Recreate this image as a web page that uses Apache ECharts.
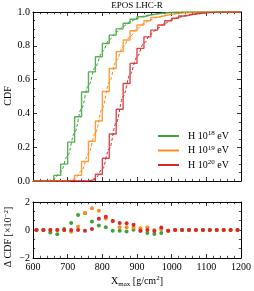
<!DOCTYPE html>
<html><head><meta charset="utf-8">
<script src="https://cdn.jsdelivr.net/npm/echarts@6/dist/echarts.min.js"></script>
<style>html,body{margin:0;padding:0;background:#fff}#c{width:254px;height:291px}</style>
</head><body><div id="c"></div>
<script>
// ---- data ----
const binEdges = [600,620,640,660,680,700,720,740,760,780,800,820,840,860,880,900,920,940,960,980,1000,1020,1040,1060,1080,1100,1120,1140,1160,1180];
const cdfH18 = [0,0,0.003,0.033,0.10,0.23,0.38,0.527,0.646,0.735,0.814,0.863,0.90,0.933,0.957,0.972,0.982,0.989,0.994,0.997,0.999,1,1,1,1,1,1,1,1,1];
const cdfH19 = [0,0,0,0,0,0.005,0.033,0.115,0.235,0.355,0.53,0.666,0.766,0.834,0.889,0.923,0.948,0.968,0.978,0.986,0.992,0.996,0.998,1,1,1,1,1,1,1];
const cdfH20 = [0,0,0,0,0,0,0,0,0.008,0.04,0.135,0.278,0.425,0.577,0.696,0.785,0.853,0.893,0.923,0.948,0.963,0.976,0.985,0.991,0.995,0.998,1,1,1,1];
const fitX18 = [600,640,660,680,700,720,740,760,780,800,820,840,860,880,900,920,940,960,980,1000,1040,1200];
const fitH18 = [0,0,0.01,0.055,0.15,0.285,0.43,0.565,0.675,0.765,0.835,0.882,0.915,0.942,0.962,0.976,0.985,0.991,0.995,0.998,1,1];
const fitX19 = [600,700,720,740,760,780,800,820,840,860,880,900,920,940,960,980,1000,1020,1040,1080,1200];
const fitH19 = [0,0,0.012,0.06,0.16,0.285,0.43,0.585,0.71,0.795,0.855,0.9,0.932,0.955,0.97,0.98,0.988,0.993,0.997,1,1];
const fitX20 = [600,760,780,800,820,840,860,880,900,920,940,960,980,1000,1020,1040,1060,1080,1100,1140,1200];
const fitH20 = [0,0,0.015,0.07,0.19,0.345,0.5,0.63,0.735,0.815,0.87,0.905,0.932,0.953,0.968,0.979,0.987,0.992,0.996,1,1];
const binCenters = [610,630,650,670,690,710,730,750,770,790,810,830,850,870,890,910,930,950,970,990,1010,1030,1050,1070,1090,1110,1130,1150,1170,1190];
const dH18 = [0,0,-0.17,-0.31,0.07,0.5,1.07,1.2,0.6,0.33,0.2,-0.05,-0.05,-0.1,0.02,-0.05,-0.21,-0.29,-0.21,-0.05,0,0,0,0,0,0,0,0,0,0];
const dH19 = [0,0,0,0,0,-0.12,0.24,1.22,1.55,1.38,0.83,0.65,0.19,0.19,0.17,0.12,0.17,0,0.05,-0.05,0,0,0,0,0,0,0,0,0,0];
const dH20 = [0,0,0,0,0,0,0,-0.05,0.08,0.8,0.95,0.65,0.5,0.48,0.38,-0.05,0,-0.07,0.17,-0.05,0,0,0,0,0,0,0,0,0,0];
const xTicks = [600,700,800,900,1000,1100,1200];
const legendNames = ['H18','H19','H20'];
const legendExp = {H18:'18',H19:'19',H20:'20'};

const GREEN='#3ca43a', ORANGE='#ff8c1a', RED='#d8282c';
const FONT='Liberation Serif';
const stepPts = (v)=> binEdges.map((x,i)=>[x,v[i]]).concat([[1200,1]]);
const zip = (a,b)=> a.map((x,i)=>[x,b[i]]);

function xAx(grid,pos,labels){
  return {type:'value',gridIndex:grid,position:pos,min:xTicks[0],max:xTicks[xTicks.length-1],interval:100,
    axisLine:{onZero:false,lineStyle:{color:'#000',width:1}},
    axisTick:{inside:true,length:4,lineStyle:{color:'#000',width:0.8}},
    minorTick:{show:true,splitNumber:5,length:2.2,lineStyle:{color:'#000',width:0.7}},
    splitLine:{show:false},
    axisLabel:{show:labels,fontFamily:FONT,fontSize:10,color:'#000',margin:4,formatter:v=>String(v)}};
}
function yAx(grid,pos,min,max,interval,minor,labels,fmt){
  return {type:'value',gridIndex:grid,position:pos,min:min,max:max,interval:interval,
    axisLine:{onZero:false,lineStyle:{color:'#000',width:1}},
    axisTick:{inside:true,length:4,lineStyle:{color:'#000',width:0.8}},
    minorTick:{show:true,splitNumber:minor,length:2.2,lineStyle:{color:'#000',width:0.7}},
    splitLine:{show:false},
    axisLabel:{show:labels,fontFamily:FONT,fontSize:10,color:'#000',margin:3,formatter:fmt}};
}
const step=(name,col,v)=>({name:name,type:'line',xAxisIndex:0,yAxisIndex:0,step:'end',data:stepPts(v),
  showSymbol:false,symbol:'none',lineStyle:{color:col,width:1.4,opacity:0.85},itemStyle:{color:col},z:2});
const fit=(col,xs,v)=>({type:'line',xAxisIndex:0,yAxisIndex:0,data:zip(xs,v),smooth:0.35,smoothMonotone:'x',
  showSymbol:false,symbol:'none',lineStyle:{color:col,width:1,type:[3,2]},z:3});
const dots=(col,v)=>({type:'scatter',xAxisIndex:2,yAxisIndex:2,data:zip(binCenters,v),symbolSize:4,
  itemStyle:{color:col,opacity:1},z:3});

const chart = echarts.init(document.getElementById('c'),null,{renderer:'canvas'});
chart.setOption({
  animation:false,
  grid:[{left:33,top:12,width:208,height:169},{left:33,top:202,width:208,height:56}],
  xAxis:[xAx(0,'bottom',false),xAx(0,'top',false),xAx(1,'bottom',true),xAx(1,'top',false)],
  yAxis:[yAx(0,'left',0,1,0.2,4,true,v=>v.toFixed(1)),yAx(0,'right',0,1,0.2,4,false),
         yAx(1,'left',-2,2,2,3,true,v=>v<0?'\u2212'+Math.abs(v):String(v)),yAx(1,'right',-2,2,2,3,false)],
  legend:{show:true,data:legendNames,orient:'vertical',left:158,top:130,padding:0,itemWidth:21,itemHeight:2,itemGap:2.5,
    icon:'rect',
    formatter:n=>'H 10{s|'+legendExp[n]+'} eV',
    textStyle:{fontFamily:FONT,fontSize:10,color:'#000',padding:[0,0,0,4],lineHeight:12,
      rich:{s:{fontFamily:FONT,fontSize:7,verticalAlign:'top',lineHeight:8}}}},
  series:[step('H18',GREEN,cdfH18),step('H19',ORANGE,cdfH19),step('H20',RED,cdfH20),
    fit(GREEN,fitX18,fitH18),fit(ORANGE,fitX19,fitH19),fit(RED,fitX20,fitH20),
    dots(GREEN,dH18),dots(ORANGE,dH19),dots(RED,dH20)],
  graphic:[
    {type:'text',x:137,y:1,style:{text:'EPOS LHC-R',font:'9px "'+FONT+'"',fill:'#000',align:'center',verticalAlign:'top'}},
    {type:'text',x:3,y:96,rotation:Math.PI/2,style:{text:'CDF',font:'10px "'+FONT+'"',fill:'#000',align:'center',verticalAlign:'top'}},
    {type:'text',x:3,y:237,rotation:Math.PI/2,style:{text:'\u0394 CDF [\u00d710{s|\u22122}]',font:'10px "'+FONT+'"',fill:'#000',align:'center',verticalAlign:'top',
      rich:{s:{fontSize:7,fontFamily:FONT,verticalAlign:'top',lineHeight:8}}}},
    {type:'text',x:137,y:275,style:{text:'X{b|max} [g/cm{s|2}]',font:'10px "'+FONT+'"',fill:'#000',align:'center',verticalAlign:'top',
      rich:{b:{fontSize:7,fontFamily:FONT,verticalAlign:'bottom',lineHeight:13},s:{fontSize:7,fontFamily:FONT,verticalAlign:'top',lineHeight:13}}}}
  ]
});
</script></body></html>
